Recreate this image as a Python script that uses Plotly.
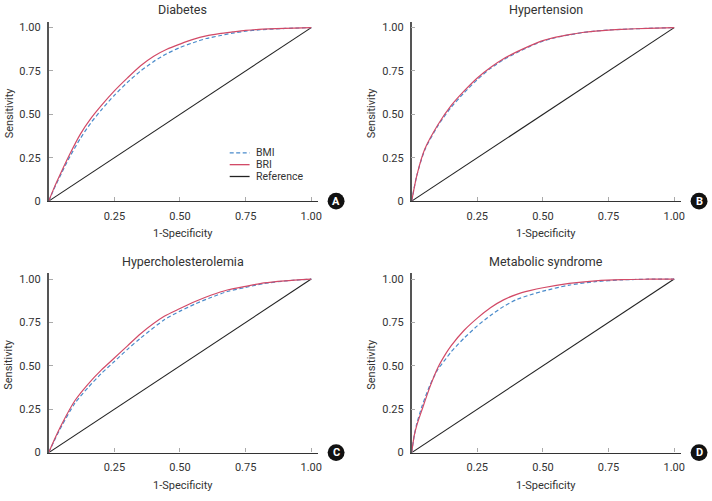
import plotly.graph_objects as go

W, H = 712, 501

# ---------------- data ----------------
titles = ["Diabetes", "Hypertension", "Hypercholesterolemia", "Metabolic syndrome"]
letters = ["A", "B", "C", "D"]

fpr_diab = [0, 0.02, 0.05, 0.08, 0.12, 0.16, 0.2, 0.25, 0.3, 0.35, 0.4, 0.45, 0.5, 0.55, 0.6, 0.65, 0.7, 0.75, 0.8, 0.9, 1.0]
bri_diab = [0, 0.075, 0.175, 0.27, 0.385, 0.475, 0.55, 0.635, 0.71, 0.78, 0.835, 0.875, 0.905, 0.932, 0.952, 0.965, 0.975, 0.984, 0.99, 0.996, 1.0]
bmi_diab = [0, 0.07, 0.165, 0.255, 0.36, 0.45, 0.525, 0.61, 0.685, 0.75, 0.805, 0.85, 0.885, 0.913, 0.937, 0.953, 0.968, 0.979, 0.987, 0.995, 1.0]

fpr_htn = [0, 0.02, 0.05, 0.1, 0.15, 0.2, 0.25, 0.3, 0.35, 0.4, 0.45, 0.5, 0.55, 0.6, 0.65, 0.7, 0.75, 0.8, 0.9, 1.0]
bri_htn = [0, 0.15, 0.30, 0.44, 0.55, 0.635, 0.71, 0.77, 0.82, 0.86, 0.895, 0.925, 0.945, 0.96, 0.972, 0.98, 0.986, 0.99, 0.996, 1.0]
bmi_htn = [0, 0.15, 0.295, 0.435, 0.54, 0.625, 0.70, 0.765, 0.815, 0.855, 0.892, 0.922, 0.943, 0.958, 0.971, 0.98, 0.986, 0.99, 0.996, 1.0]

fpr_chol = [0, 0.02, 0.05, 0.1, 0.15, 0.2, 0.25, 0.3, 0.35, 0.44, 0.5, 0.56, 0.62, 0.68, 0.75, 0.82, 0.9, 1.0]
bri_chol = [0, 0.07, 0.165, 0.30, 0.395, 0.475, 0.545, 0.615, 0.685, 0.785, 0.83, 0.872, 0.908, 0.937, 0.958, 0.978, 0.99, 1.0]
bmi_chol = [0, 0.065, 0.155, 0.285, 0.375, 0.455, 0.525, 0.595, 0.66, 0.765, 0.815, 0.858, 0.895, 0.928, 0.952, 0.974, 0.989, 1.0]

fpr_mets = [0, 0.01, 0.02, 0.04, 0.07, 0.1, 0.13, 0.15, 0.2, 0.25, 0.3, 0.35, 0.4, 0.45, 0.5, 0.6, 0.7, 0.8, 0.9, 1.0]
bri_mets = [0, 0.1, 0.16, 0.25, 0.38, 0.49, 0.57, 0.615, 0.705, 0.775, 0.835, 0.88, 0.912, 0.933, 0.95, 0.975, 0.99, 0.997, 0.999, 1.0]
bmi_mets = [0, 0.1, 0.17, 0.27, 0.39, 0.48, 0.54, 0.58, 0.66, 0.73, 0.79, 0.842, 0.882, 0.908, 0.93, 0.965, 0.985, 0.995, 0.999, 1.0]

ref_x = [0, 1]
ref_y = [0, 1]

x_tickvals = [0.25, 0.5, 0.75, 1.0]
x_ticktext = ["0.25", "0.50", "0.75", "1.00"]
y_tickvals = [0, 0.25, 0.5, 0.75, 1.0]
y_ticktext = ["0", "0.25", "0.50", "0.75", "1.00"]

series = [
    (fpr_diab, bmi_diab, bri_diab),
    (fpr_htn, bmi_htn, bri_htn),
    (fpr_chol, bmi_chol, bri_chol),
    (fpr_mets, bmi_mets, bri_mets),
]

# ---------------- styling / layout ----------------
BMI_COLOR = "#4a8bcb"
BRI_COLOR = "#d24a67"
FONT = "Roboto"
origins = [(49, 204), (414, 204), (49, 459), (414, 459)]  # pixel position of (0,0)
UX, UY = 264, 176       # pixels per unit
EXT_X, EXT_Y = 271, 182  # axis line lengths

fig = go.Figure()
layout = dict(
    width=W, height=H, margin=dict(l=0, r=0, t=0, b=0),
    paper_bgcolor="white", plot_bgcolor="white", showlegend=False,
    font=dict(family=FONT, size=11, color="#333"),
    annotations=[], shapes=[],
)


def note(text, px, py, size=11, color="#333", xanchor="center", angle=0):
    return dict(text=text, x=px / W, y=1 - py / H, xref="paper", yref="paper",
                showarrow=False, xanchor=xanchor, yanchor="middle", textangle=angle,
                font=dict(family=FONT, size=size, color=color))


for i, ((fpr, bmi, bri), (ox, oy)) in enumerate(zip(series, origins)):
    n = "" if i == 0 else str(i + 1)
    xa, ya = "x" + n, "y" + n
    fig.add_trace(go.Scatter(x=ref_x, y=ref_y, mode="lines", xaxis=xa, yaxis=ya,
                             line=dict(color="#222", width=1.1), name="Reference"))
    fig.add_trace(go.Scatter(x=fpr, y=bmi, mode="lines", xaxis=xa, yaxis=ya,
                             line=dict(color=BMI_COLOR, width=1.2, dash="4px,2.5px",
                                       shape="spline", smoothing=0.7), name="BMI"))
    fig.add_trace(go.Scatter(x=fpr, y=bri, mode="lines", xaxis=xa, yaxis=ya,
                             line=dict(color=BRI_COLOR, width=1.2,
                                       shape="spline", smoothing=0.7), name="BRI"))
    layout["xaxis" + n] = dict(
        domain=[ox / W, (ox + EXT_X) / W], range=[0, EXT_X / UX], anchor=ya,
        showline=True, linecolor="#333", linewidth=1.4, showgrid=False, zeroline=False,
        ticks="inside", ticklen=4, tickcolor="#aaa", tickwidth=1,
        tickvals=x_tickvals, ticktext=x_ticktext, ticklabelstandoff=4,
        tickfont=dict(family=FONT, size=11, color="#333"), fixedrange=True,
    )
    layout["yaxis" + n] = dict(
        domain=[1 - oy / H, 1 - (oy - EXT_Y) / H], range=[0, EXT_Y / UY], anchor=xa,
        showline=True, linecolor="#555", linewidth=1.6, showgrid=False, zeroline=False,
        ticks="inside", ticklen=4, tickcolor="#aaa", tickwidth=1,
        tickvals=y_tickvals, ticktext=y_ticktext, ticklabelstandoff=4,
        tickfont=dict(family=FONT, size=11, color="#333"), fixedrange=True,
    )
    cx = ox + UX / 2
    layout["annotations"].append(note(titles[i], cx + 3, oy - 194, size=12.5))
    layout["annotations"].append(note("1-Specificity", cx + 3, oy + 33))
    layout["annotations"].append(note("Sensitivity", ox - 40, oy - 90, angle=-90))
    # panel letter badge
    bx, by, r = ox + 289, oy, 8.5
    layout["shapes"].append(dict(type="circle", xref="paper", yref="paper",
                                 x0=(bx - r) / W, x1=(bx + r) / W,
                                 y0=1 - (by + r) / H, y1=1 - (by - r) / H,
                                 fillcolor="#111", line=dict(width=0)))
    layout["annotations"].append(note("<b>%s</b>" % letters[i], bx, by, size=11, color="white"))

# manual legend inside panel A
legend_items = [("BMI", BMI_COLOR, "4px,2.5px", 155), ("BRI", BRI_COLOR, "solid", 167),
                ("Reference", "#222", "solid", 179)]
for name, col, dash, py in legend_items:
    layout["shapes"].append(dict(type="line", xref="paper", yref="paper",
                                 x0=231 / W, x1=251 / W, y0=1 - py / H, y1=1 - py / H,
                                 line=dict(color=col, width=1.3, dash=dash)))
    layout["annotations"].append(note(name, 255, py, size=10.5, xanchor="left"))

fig.update_layout(**layout)
fig.write_html("out.html")
